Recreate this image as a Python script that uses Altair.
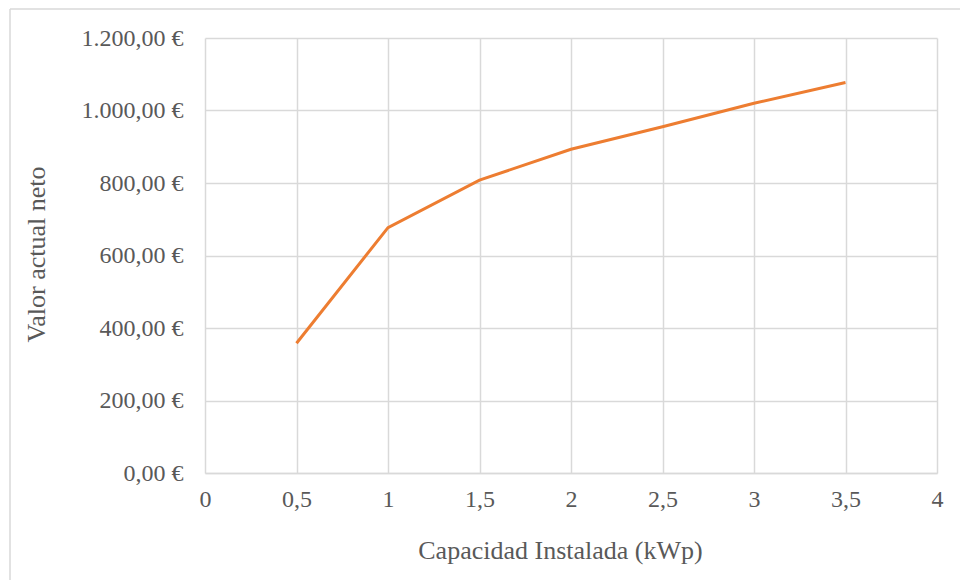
import altair as alt
import pandas as pd

capacidad = [0.5, 1.0, 1.5, 2.0, 2.5, 3.0, 3.5]
van = [358, 677, 808, 893, 955, 1020, 1077]

df = pd.DataFrame({"Capacidad": capacidad, "VAN": van})

FONT = "Liberation Serif"
GREY = "#595959"
GRID = "#d9d9d9"

line = alt.Chart(df).mark_line(color="#ED7D31", strokeWidth=3).encode(
    x=alt.X(
        "Capacidad:Q",
        scale=alt.Scale(domain=[0, 4], nice=False),
        axis=alt.Axis(
            values=[0, 0.5, 1, 1.5, 2, 2.5, 3, 3.5, 4],
            format="~g",
            title="Capacidad Instalada (kWp)",
            titleX=355, titleY=77, titleBaseline="middle", titleAlign="center",
            labelPadding=14, ticks=False, labelFlush=False,
            domainColor=GRID, domainWidth=1.5,
            gridColor=GRID, gridWidth=1.5,
        ),
    ),
    y=alt.Y(
        "VAN:Q",
        scale=alt.Scale(domain=[0, 1200], nice=False),
        axis=alt.Axis(
            values=[0, 200, 400, 600, 800, 1000, 1200],
            format="$,.2f",
            title="Valor actual neto",
            titleX=-169, titleY=216, titleAngle=-90,
            titleBaseline="middle", titleAlign="center",
            labelPadding=22, ticks=False, domain=False, labelFlush=False,
            gridColor=GRID, gridWidth=1.5,
        ),
    ),
)

border = alt.Chart(pd.DataFrame({"a": [0]})).mark_rule(color="#d9d9d9", strokeWidth=1.5).encode(
    x=alt.value(-195), x2=alt.value(760), y=alt.value(-29)
)
border_left = alt.Chart(pd.DataFrame({"a": [0]})).mark_rule(color="#d9d9d9", strokeWidth=1.5).encode(
    x=alt.value(-195), y=alt.value(-29), y2=alt.value(560)
)

chart = (
    alt.layer(border, border_left, line)
    .properties(
        width=732, height=435,
        autosize=alt.AutoSizeParams(type="none"),
        padding={"left": 205, "top": 38, "right": 23, "bottom": 107},
        background="white",
    )
    .configure(
        locale={
            "number": {
                "decimal": ",",
                "thousands": ".",
                "grouping": [3],
                "currency": ["", "\u00a0€"],
            }
        }
    )
    .configure_view(stroke=None)
    .configure_axis(
        labelFont=FONT, titleFont=FONT, labelFontSize=24, titleFontSize=26,
        labelColor=GREY, titleColor=GREY, titleFontWeight="normal",
    )
)

chart.save("out.html", embed_options={"renderer": "svg", "actions": False})
